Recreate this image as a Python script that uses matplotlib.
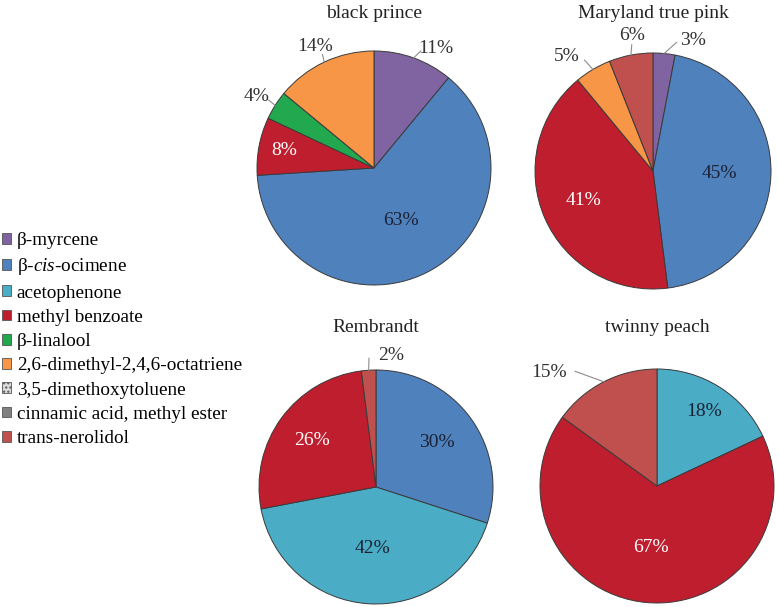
import matplotlib
matplotlib.use("Agg")
import matplotlib.pyplot as plt
from matplotlib.patches import Patch
import math

plt.rcParams['font.family'] = ['Liberation Serif', 'DejaVu Serif']
plt.rcParams['mathtext.fontset'] = 'custom'
plt.rcParams['mathtext.rm'] = 'Liberation Serif'
plt.rcParams['mathtext.it'] = 'Liberation Serif:italic'

# ---------------- data ----------------
compounds = ['β-myrcene', r'β-$\mathit{cis}$-ocimene', 'acetophenone', 'methyl benzoate',
             'β-linalool', '2,6-dimethyl-2,4,6-octatriene', '3,5-dimethoxytoluene',
             'cinnamic acid, methyl ester', 'trans-nerolidol']
titles = ['black prince', 'Maryland true pink', 'Rembrandt', 'twinny peach']
black_prince = [11, 63, 0, 8, 4, 14, 0, 0, 0]
maryland_true_pink = [3, 45, 0, 41, 0, 5, 0, 0, 6]
rembrandt = [0, 30, 42, 26, 0, 0, 0, 0, 2]
twinny_peach = [0, 0, 18, 67, 0, 0, 0, 0, 15]
all_values = [black_prince, maryland_true_pink, rembrandt, twinny_peach]

# ---------------- style ----------------
colors = ['#8064A2', '#4F81BD', '#4BACC6', '#BE1E2D', '#22A94F', '#F79646',
          '#DCDCDC', '#808080', '#C0504D']
W, H = 779, 607
# pie centre (px) and radius (px)
geom = [(374, 168, 117), (653, 171, 118), (376, 487, 117), (657, 486, 117)]
title_y = [14, 14, 327, 327]
# label placement for each non-zero slice (in order): ('in', radius, color) or
# ('out', x, y, anchor_x, anchor_y) in pie-radius units
label_style = [
    [('out', 0.53, 1.02, 0.40, 1.00), ('in', 0.50, '#1c2236'), ('in', 0.78, 'white'),
     ('out', -1.00, 0.61, -0.90, 0.58), ('out', -0.50, 1.04, -0.44, 0.97)],
    [('out', 0.34, 1.11, 0.20, 1.09), ('in', 0.56, '#1c2236'), ('in', 0.64, 'white'),
     ('out', -0.73, 0.97, -0.58, 0.94), ('out', -0.18, 1.15, -0.18, 1.07)],
    [('in', 0.64, '#1c2236'), ('in', 0.53, '#1c2236'), ('in', 0.68, 'white'),
     ('out', 0.13, 1.12, -0.06, 1.10)],
    [('in', 0.75, '#1c2236'), ('in', 0.53, 'white'),
     ('out', -0.92, 0.97, -0.70, 0.98)],
]
FS = 14

fig = plt.figure(figsize=(W / 100, H / 100), dpi=100)

for k, vals in enumerate(all_values):
    cx, cy, r = geom[k]
    ax = fig.add_axes([(cx - r) / W, (H - cy - r) / H, 2 * r / W, 2 * r / H])
    idx = [i for i, v in enumerate(vals) if v > 0]
    v = [vals[i] for i in idx]
    wedges, _ = ax.pie(v, colors=[colors[i] for i in idx], startangle=90, counterclock=False,
                       radius=1, wedgeprops=dict(edgecolor='#3a3a3a', linewidth=0.7))
    ax.set_xlim(-1, 1)
    ax.set_ylim(-1, 1)
    ax.set_aspect('equal')
    ax.axis('off')
    total = sum(v)
    for w, val, st in zip(wedges, v, label_style[k]):
        mid = math.radians((w.theta1 + w.theta2) / 2)
        txt = f'{round(100 * val / total)}%'
        if st[0] == 'in':
            d = st[1]
            ax.text(d * math.cos(mid), d * math.sin(mid), txt, ha='center', va='center',
                    fontsize=FS, color=st[2])
        else:
            _, lx, ly, axx, ayy = st
            ex, ey = math.cos(mid), math.sin(mid)
            ax.plot([ex, axx], [ey, ayy], color='#8c8c8c', lw=0.8, clip_on=False)
            ax.text(lx, ly, txt, ha='center', va='center', fontsize=FS, color='#333333')
    fig.text(cx / W, 1 - title_y[k] / H, titles[k], ha='center', va='center',
             fontsize=FS, color='#222222')

handles = []
for i, c in enumerate(colors):
    if i == 6:
        handles.append(Patch(facecolor=c, edgecolor='#555555', hatch='....', linewidth=0.6))
    else:
        handles.append(Patch(facecolor=c, edgecolor='#555555', linewidth=0.6))
fig.legend(handles, compounds, loc='upper left', bbox_to_anchor=(0.002, 1 - 232 / H),
           frameon=False, handlelength=0.5, handleheight=0.5, handletextpad=0.3,
           labelspacing=0.38, borderaxespad=0, borderpad=0,
           prop={'family': 'Liberation Serif', 'size': 13.75})

fig.savefig('out.png', dpi=100)
